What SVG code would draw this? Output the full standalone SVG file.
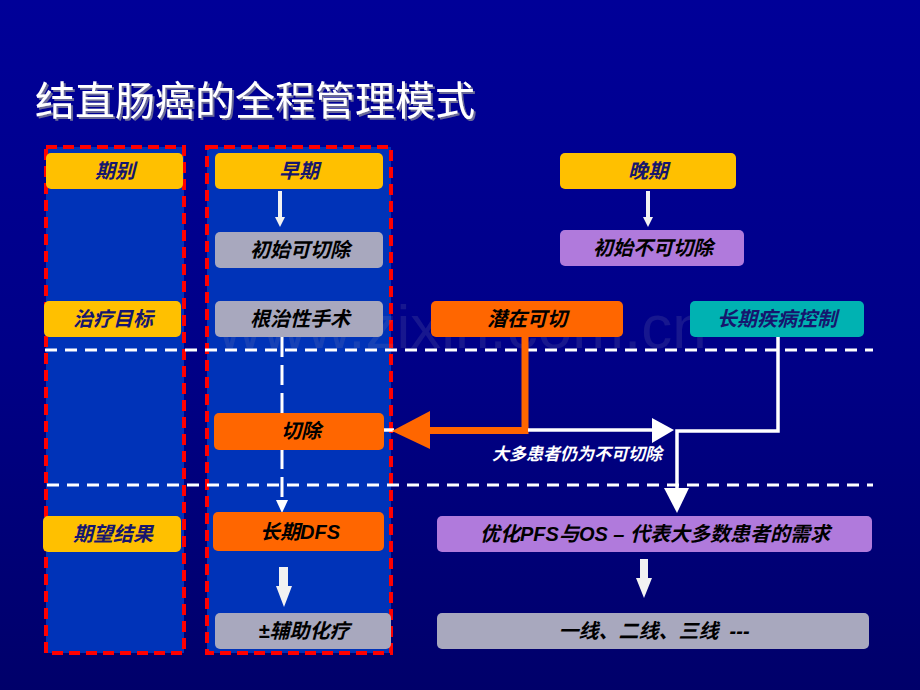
<svg xmlns="http://www.w3.org/2000/svg" width="920" height="690" viewBox="0 0 920 690">
<defs>
<linearGradient id="bg" x1="0" y1="0" x2="0" y2="1">
<stop offset="0" stop-color="#000098"/>
<stop offset="0.5" stop-color="#000088"/>
<stop offset="1" stop-color="#00006A"/>
</linearGradient>
<filter id="sh" x="-5%" y="-20%" width="110%" height="140%">
<feDropShadow dx="2" dy="2" stdDeviation="0.3" flood-color="#6A6A98" flood-opacity="1"/>
</filter>
<style>
.t{font-family:"Liberation Sans","Noto Sans CJK SC",sans-serif;font-weight:bold;font-style:italic;font-size:20px;text-anchor:middle}
.navy{fill:#16166E}
.blk{fill:#000000}
.yel{fill:#FFC000}
.gry{fill:#A8A8BE}
.org{fill:#FF6600}
.pur{fill:#B07ADC}
.teal{fill:#00B2B2}
.col{fill:#0033B8;stroke:#FF0000;stroke-width:4;stroke-dasharray:11 6}
.hd{stroke:#FFFFFF;stroke-width:3;stroke-dasharray:12 8;fill:none}
.wl{stroke:#FFFFFF;stroke-width:3.5;fill:none}
</style>
</defs>
<rect x="0" y="0" width="920" height="690" fill="url(#bg)"/>
<g id="title">
<text x="35" y="115" font-family="'Noto Sans CJK SC',sans-serif" font-size="40" fill="#FFFFFF" filter="url(#sh)">结直肠癌的全程管理模式</text>
</g>
<g id="columns">
<rect class="col" x="46" y="147" width="138" height="506"/>
<rect class="col" x="207" y="147" width="184" height="506"/>
</g>
<text x="462" y="348" font-family="'Liberation Sans',sans-serif" font-size="62" fill="#9090B0" fill-opacity="0.16" text-anchor="middle">www.zixin.com.cn</text>
<g id="connectors">
<line class="hd" x1="45" y1="350" x2="873" y2="350"/>
<line class="hd" x1="47" y1="485" x2="873" y2="485"/>
<line x1="280" y1="191" x2="280" y2="218" stroke="#F2F2F2" stroke-width="4"/>
<polygon points="275,217 285,217 280,227" fill="#F2F2F2"/>
<line x1="648" y1="191" x2="648" y2="218" stroke="#F2F2F2" stroke-width="4"/>
<polygon points="643,217 653,217 648,227" fill="#F2F2F2"/>
<line x1="282" y1="337" x2="282" y2="503" stroke="#FFFFFF" stroke-width="3" stroke-dasharray="20 8"/>
<polygon points="276,500 288,500 282,513" fill="#FFFFFF"/>
<line class="wl" x1="384" y1="430" x2="394" y2="430"/>
<polyline points="525,337 525,430.5 428,430.5" stroke="#FF6600" stroke-width="7" fill="none"/>
<polygon points="392,431 430,411 430,449" fill="#FF6600"/>
<line class="wl" x1="528" y1="430" x2="654" y2="430"/>
<polygon points="652,418 674,430 652,443" fill="#FFFFFF"/>
<polyline class="wl" points="778,337 778,431 677,431 677,492"/>
<polygon points="664,488 689,488 677,513" fill="#FFFFFF"/>
<polygon points="279,567 288,567 288,586 292,586 284,607 276,586 279,586" fill="#F2F2F2"/>
<polygon points="640,559 648,559 648,578 652,578 644,598 636,578 640,578" fill="#F2F2F2"/>
<text x="577" y="460" class="t" style="font-size:17px" fill="#FFFFFF">大多患者仍为不可切除</text>
</g>
<g id="n-qibie"><rect class="yel" x="46" y="153" width="137" height="36" rx="5"/><text class="t navy" x="115" y="178">期别</text></g>
<g id="n-zaoqi"><rect class="yel" x="215" y="153" width="168" height="36" rx="5"/><text class="t navy" x="299" y="178">早期</text></g>
<g id="n-wanqi"><rect class="yel" x="560" y="153" width="176" height="36" rx="5"/><text class="t navy" x="648" y="178">晚期</text></g>
<g id="n-kqc"><rect class="gry" x="215" y="232" width="168" height="36" rx="5"/><text class="t blk" x="300" y="257">初始可切除</text></g>
<g id="n-bkqc"><rect class="pur" x="560" y="230" width="184" height="36" rx="5"/><text class="t blk" x="653" y="255">初始不可切除</text></g>
<g id="n-zlmb"><rect class="yel" x="44" y="301" width="137" height="36" rx="5"/><text class="t navy" x="113" y="326">治疗目标</text></g>
<g id="n-gzx"><rect class="gry" x="215" y="301" width="168" height="36" rx="5"/><text class="t blk" x="300" y="326">根治性手术</text></g>
<g id="n-qzkq"><rect class="org" x="431" y="301" width="192" height="36" rx="5"/><text class="t blk" x="527" y="326">潜在可切</text></g>
<g id="n-cqjb"><rect class="teal" x="690" y="301" width="174" height="36" rx="5"/><text class="t navy" x="777" y="326">长期疾病控制</text></g>
<g id="n-qiechu"><rect class="org" x="214" y="413" width="170" height="37" rx="5"/><text class="t blk" x="301" y="438">切除</text></g>
<g id="n-qwjg"><rect class="yel" x="43" y="516" width="138" height="36" rx="5"/><text class="t navy" x="113" y="541">期望结果</text></g>
<g id="n-dfs"><rect class="org" x="213" y="512" width="171" height="39" rx="5"/><text class="t blk" x="300" y="539">长期DFS</text></g>
<g id="n-pfs"><rect class="pur" x="437" y="516" width="435" height="36" rx="5"/><text class="t blk" x="655" y="541">优化PFS与OS – 代表大多数患者的需求</text></g>
<g id="n-fzhl"><rect class="gry" x="215" y="613" width="176" height="36" rx="5"/><text class="t blk" x="304" y="638">±辅助化疗</text></g>
<g id="n-yx"><rect class="gry" x="437" y="613" width="432" height="36" rx="5"/><text class="t blk" x="654" y="638" xml:space="preserve">一线、二线、三线  ---</text></g>
</svg>
